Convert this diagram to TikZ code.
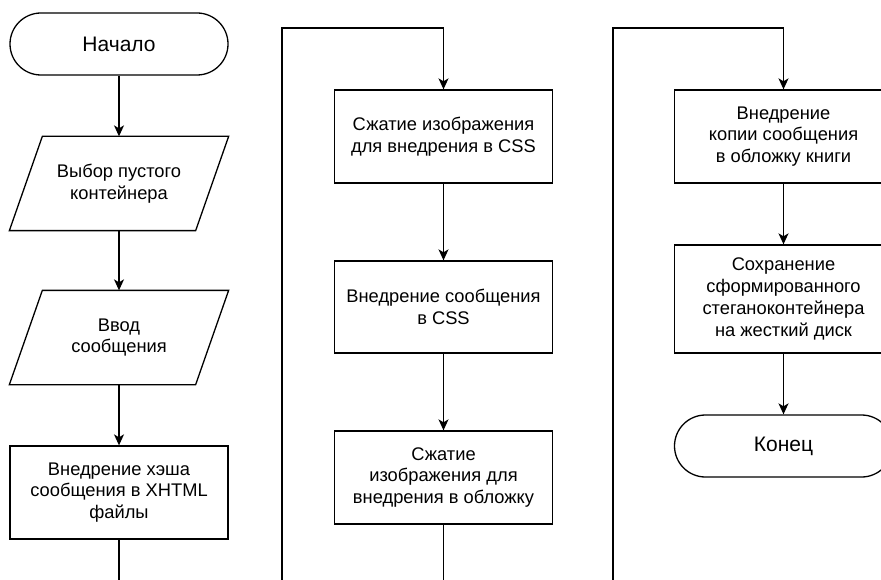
\documentclass[tikz,border=0pt]{standalone}
\usepackage{fontspec}
\setmainfont{Liberation Sans}
\usetikzlibrary{arrows.meta,calc}

\tikzset{
  box/.style={draw, line width=1.3pt, minimum width=218pt, minimum height=93pt,
    inner sep=0pt, align=center, font=\fontsize{18.3}{21.8}\selectfont},
  term/.style={box, rounded corners=31pt, minimum height=62pt,
    font=\fontsize{21}{25}\selectfont},
  iobox/.style={box, draw=none},
  flow/.style={line width=1.3pt, -{Stealth[length=11pt,width=10pt,inset=3pt]}},
  wire/.style={line width=1.3pt},
}
% parallelogram outline around a borderless node
\newcommand{\ioshape}[1]{%
  \draw[wire] ($(#1.north west)+(33,0)$) -- (#1.north east)
    -- ($(#1.south east)-(33,0)$) -- (#1.south west) -- cycle;}

\begin{document}
\begin{tikzpicture}[x=1pt,y=-1pt]
\useasboundingbox (0,0) rectangle (881,580);
\clip (0,0) rectangle (881,580);
\fill[white] (0,0) rectangle (881,580);

% first column
\node[term]  (start) at (119,44)    {Начало};
\node[iobox] (choose) at (119,183.5) {Выбор пустого\\контейнера};
\node[iobox] (input) at (119,337.5)  {Ввод\\сообщения};
\node[box]   (hash) at (119,492.5)   {Внедрение хэша\\сообщения в XHTML\\файлы};
\ioshape{choose}
\ioshape{input}

% second column
\node[box] (cmpcss) at (443.5,136.5) {Сжатие изображения\\для внедрения в CSS};
\node[box, minimum height=92pt] (embcss) at (443.5,307) {Внедрение сообщения\\в CSS};
\node[box] (cmpcov) at (443.5,477.5) {Сжатие\\изображения для\\внедрения в обложку};

% third column
\node[box] (embcov) at (783.5,136.5) {Внедрение\\копии сообщения\\в обложку книги};
\node[box, minimum height=108pt] (save) at (783.5,299) {Сохранение\\сформированного\\стеганоконтейнера\\на жесткий диск};
\node[term] (finish) at (783.5,446) {Конец};

% continuation points at the page edge
\coordinate (out1) at (119,585);
\coordinate (in2)  at (282,585);
\coordinate (top2) at (282,28);
\coordinate (out2) at (443.5,585);
\coordinate (in3)  at (613,585);
\coordinate (top3) at (613,28);

% connectors
\draw[flow] (start) -- (choose);
\draw[flow] (choose) -- (input);
\draw[flow] (input) -- (hash);
\draw[wire] (hash) -- (out1);

\draw[flow] (in2) -- (top2) -| (cmpcss.north);
\draw[flow] (cmpcss) -- (embcss);
\draw[flow] (embcss) -- (cmpcov);
\draw[wire] (cmpcov) -- (out2);

\draw[flow] (in3) -- (top3) -| (embcov.north);
\draw[flow] (embcov) -- (save);
\draw[flow] (save) -- (finish);
\end{tikzpicture}
\end{document}
